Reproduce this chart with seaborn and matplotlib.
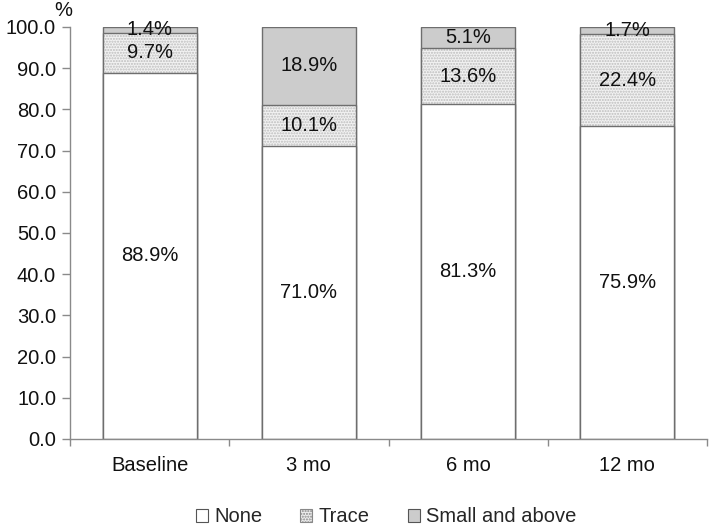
import matplotlib
matplotlib.use("Agg")
import matplotlib.pyplot as plt
import seaborn as sns
import numpy as np
from matplotlib.patches import Patch
from matplotlib.ticker import FixedLocator

timepoints = ["Baseline", "3 mo", "6 mo", "12 mo"]
none_vals = [88.9, 71.0, 81.3, 75.9]
trace_vals = [9.7, 10.1, 13.6, 22.4]
small_vals = [1.4, 18.9, 5.1, 1.7]
series_names = ["None", "Trace", "Small and above"]
y_ticks = [0, 10, 20, 30, 40, 50, 60, 70, 80, 90, 100]

sns.set_theme(style="white")
plt.rcParams["font.family"] = ["Liberation Sans", "DejaVu Sans"]

FS = 14.5
none_arr = np.array(none_vals)
trace_top = none_arr + np.array(trace_vals)
small_top = trace_top + np.array(small_vals)

fig = plt.figure(figsize=(7.09, 5.28), dpi=100)
ax = fig.add_axes([70 / 709, 1 - 439 / 528, 637 / 709, 412 / 528])

edge = "#6e6e6e"
bw = 0.59
# Small and above (drawn first as full stack)
sns.barplot(x=timepoints, y=small_top, ax=ax, color="#cccccc", edgecolor=edge,
            linewidth=1.0, saturation=1, width=bw)
# Trace (dotted fill)
sns.barplot(x=timepoints, y=trace_top, ax=ax, color="#f2f2f2", edgecolor="#bdbdbd",
            linewidth=0, saturation=1, width=bw, hatch="......")
sns.barplot(x=timepoints, y=trace_top, ax=ax, color=edge, fill=False,
            linewidth=1.0, saturation=1, width=bw)
# None
sns.barplot(x=timepoints, y=none_arr, ax=ax, color="white", edgecolor=edge,
            linewidth=1.0, saturation=1, width=bw)

# segment labels
for i in range(len(timepoints)):
    ax.text(i, none_vals[i] / 2, f"{none_vals[i]:.1f}%", ha="center", va="center",
            fontsize=FS, color="#111111")
    ax.text(i, none_vals[i] + trace_vals[i] / 2, f"{trace_vals[i]:.1f}%", ha="center",
            va="center", fontsize=FS, color="#111111")
    ax.text(i, trace_top[i] + small_vals[i] / 2, f"{small_vals[i]:.1f}%", ha="center",
            va="center", fontsize=FS, color="#111111")

ax.set_xlim(-0.5, 3.5)
ax.set_ylim(0, 100)
ax.set_yticks(y_ticks)
ax.set_yticklabels([f"{v:.1f}" for v in y_ticks], fontsize=FS, color="#111111")
ax.set_xticks(range(len(timepoints)))
ax.set_xticklabels(timepoints, fontsize=FS, color="#111111")
ax.xaxis.set_minor_locator(FixedLocator([-0.5, 0.5, 1.5, 2.5, 3.5]))
ax.tick_params(axis="x", which="major", length=0, pad=12)
ax.tick_params(axis="x", which="minor", length=5, color="#8a8a8a", width=1, direction="out", bottom=True)
ax.tick_params(axis="y", which="major", length=6, color="#8a8a8a", width=1, direction="out", left=True, pad=4)
ax.set_xlabel("")
ax.set_ylabel("")
for s in ["top", "right"]:
    ax.spines[s].set_visible(False)
for s in ["left", "bottom"]:
    ax.spines[s].set_color("#8a8a8a")
    ax.spines[s].set_linewidth(1.0)
ax.grid(False)

fig.text(63 / 709, 1 - 11 / 528, "%", fontsize=FS, ha="center", va="center", color="#111111")

handles = [
    Patch(facecolor="white", edgecolor="#555555", linewidth=0.8),
    Patch(facecolor="#eeeeee", edgecolor="#888888", linewidth=0.8, hatch="......"),
    Patch(facecolor="#cccccc", edgecolor="#555555", linewidth=0.8),
]
fig.legend(handles, series_names, loc="center", bbox_to_anchor=(386 / 709, 1 - 517 / 528),
           ncol=3, frameon=False, fontsize=FS, handlelength=0.6, handleheight=0.6,
           handletextpad=0.3, columnspacing=1.9, borderpad=0)

fig.savefig("out.png", dpi=100)
